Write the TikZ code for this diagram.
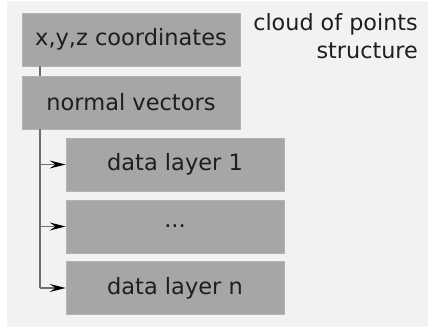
\documentclass[tikz,border=0pt]{standalone}
\usepackage{fontspec}
\setmainfont{DejaVu Sans}
\usetikzlibrary{arrows.meta}
\definecolor{bg}{HTML}{F2F2F2}
\definecolor{boxfill}{HTML}{A6A6A6}
\definecolor{boxline}{HTML}{B2B2B2}
\definecolor{txt}{HTML}{1E1E1E}
\definecolor{conn}{HTML}{6E6E6E}
\begin{document}
\begin{tikzpicture}[x=1pt,y=-1pt,
  layerbox/.style={draw=boxline, line width=0.8pt, fill=boxfill, minimum width=218pt, minimum height=53pt, inner sep=0pt, text=txt, font=\fontsize{22.5}{27}\selectfont},
  link/.style={draw=conn, line width=1.1pt},
  arr/.style={link, -{Stealth[length=16pt,width=8pt,inset=6pt,black]}}
]
\useasboundingbox (0,0) rectangle (428,328);
\fill[bg] (7,1) rectangle (428,327);
\node[layerbox] (xyz) at (131,39.5) {x,y,z coordinates};
\node[layerbox] (nv) at (131,102.5) {normal vectors};
\node[layerbox] (d1) at (175,164.5) {data layer 1};
\node[layerbox, text height=1.5pt, text depth=0pt] (dd) at (175,226.5) {...};
\node[layerbox] (dn) at (175,288) {data layer n};
\node[anchor=north east, align=right, text=txt, font=\fontsize{22.3}{28}\selectfont, inner sep=0pt] (title) at (418,13) {cloud of points\\structure};
\draw[link] (xyz.south -| 40,0) -- (nv.north -| 40,0);
\coordinate (t1) at (40,164.5);
\coordinate (t2) at (40,226.5);
\coordinate (t3) at (40,288);
\draw[link] (nv.south -| 40,0) -- (t3);
\draw[arr] (t3) -- (dn.west);
\draw[arr] (t1) -- (d1.west);
\draw[arr] (t2) -- (dd.west);
\end{tikzpicture}
\end{document}
